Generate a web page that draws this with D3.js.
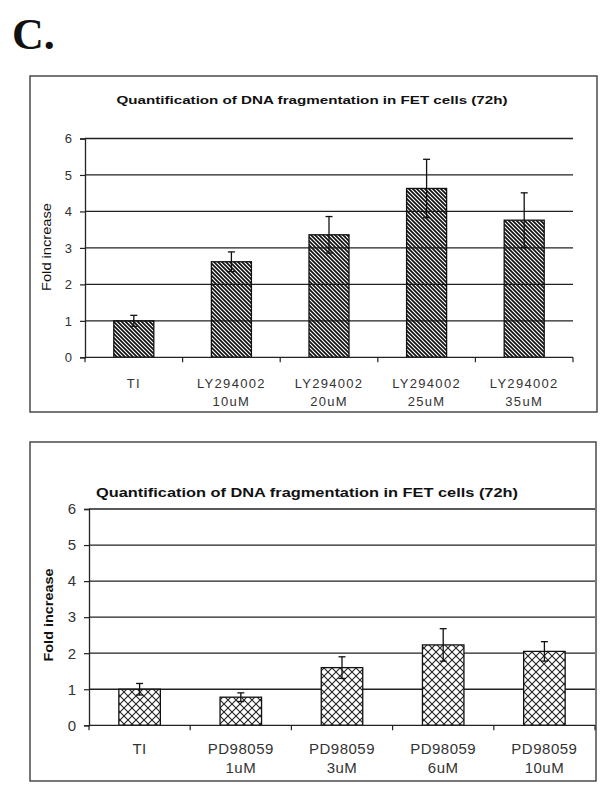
<!DOCTYPE html>
<html>
<head>
<meta charset="utf-8">
<script src="https://cdn.jsdelivr.net/npm/d3@7/dist/d3.min.js"></script>
<style>
  body { margin: 0; background: #fff; }
  text { font-family: "Liberation Sans", Arial, sans-serif; }
</style>
</head>
<body>
<svg id="chart" width="610" height="789"></svg>
<script>
// panel 1: LY294002
const drugs1 = ["TI", "LY294002", "LY294002", "LY294002", "LY294002"];
const doses1 = ["", "10uM", "20uM", "25uM", "35uM"];
const fold1 = [1.0, 2.62, 3.36, 4.63, 3.76];
const err1 = [0.15, 0.27, 0.5, 0.8, 0.75];

// panel 2: PD98059
const drugs2 = ["TI", "PD98059", "PD98059", "PD98059", "PD98059"];
const doses2 = ["", "1uM", "3uM", "6uM", "10uM"];
const fold2 = [1.0, 0.78, 1.6, 2.23, 2.05];
const err2 = [0.16, 0.12, 0.3, 0.45, 0.27];

const yTicks = [0, 1, 2, 3, 4, 5, 6];
const title = "Quantification of DNA fragmentation in FET cells (72h)";

const svg = d3.select("#chart");
const defs = svg.append("defs");

// dense "\" hatching
defs.append("pattern")
  .attr("id", "hatch")
  .attr("patternUnits", "userSpaceOnUse")
  .attr("width", 4).attr("height", 4)
  .append("path")
  .attr("d", "M-1,-1L5,5M3,-1L5,1M-1,3L1,5")
  .attr("stroke", "#111").attr("stroke-width", 1.7);

// diagonal cross hatch
const cross = defs.append("pattern")
  .attr("id", "cross")
  .attr("patternUnits", "userSpaceOnUse")
  .attr("width", 8).attr("height", 8);
cross.append("rect").attr("width", 8).attr("height", 8).attr("fill", "#fff");
cross.append("path")
  .attr("d", "M0,0L8,8M8,0L0,8")
  .attr("stroke", "#222").attr("stroke-width", 1.1);

svg.append("text")
  .attr("x", 12).attr("y", 49)
  .style("font-family", "'Liberation Serif', 'Times New Roman', serif")
  .style("font-weight", "bold")
  .style("font-size", "44px")
  .attr("fill", "#111")
  .text("C.");

function drawPanel(o) {
  const g = svg.append("g");

  g.append("rect")
    .attr("x", o.box[0]).attr("y", o.box[1])
    .attr("width", o.box[2] - o.box[0]).attr("height", o.box[3] - o.box[1])
    .attr("fill", "#fff").attr("stroke", "#555").attr("stroke-width", 1.6);

  g.append("text")
    .attr("x", o.titleX).attr("y", o.titleY)
    .attr("text-anchor", "middle")
    .attr("textLength", o.titleLen).attr("lengthAdjust", "spacingAndGlyphs")
    .style("font-weight", "bold").style("font-size", o.titleSize + "px")
    .attr("fill", "#111")
    .text(title);

  const x = d3.scaleBand()
    .domain(d3.range(o.fold.length))
    .range([o.x0, o.x1])
    .paddingInner(0.59).paddingOuter(0.295);
  const step = x.step();

  const y = d3.scaleLinear().domain([0, 6]).range([o.y0, o.y6]);

  // gridlines
  g.append("g").selectAll("line")
    .data(yTicks.filter(d => d > 0))
    .enter().append("line")
    .attr("x1", o.x0).attr("x2", o.x1)
    .attr("y1", d => y(d)).attr("y2", d => y(d))
    .attr("stroke", "#222").attr("stroke-width", 1.3);

  // bars
  g.append("g").selectAll("rect")
    .data(o.fold)
    .enter().append("rect")
    .attr("x", (d, i) => x(i))
    .attr("y", d => y(d))
    .attr("width", x.bandwidth())
    .attr("height", d => y(0) - y(d))
    .attr("fill", "url(#" + o.pattern + ")")
    .attr("stroke", "#111").attr("stroke-width", 1.3);

  // error bars
  const eb = g.append("g").selectAll("g")
    .data(o.fold.map((d, i) => ({ v: d, e: o.err[i], i: i })))
    .enter().append("g");
  eb.append("line")
    .attr("x1", d => x(d.i) + x.bandwidth() / 2).attr("x2", d => x(d.i) + x.bandwidth() / 2)
    .attr("y1", d => y(d.v - d.e)).attr("y2", d => y(d.v + d.e))
    .attr("stroke", "#111").attr("stroke-width", 1.3);
  [1, -1].forEach(s => {
    eb.append("line")
      .attr("x1", d => x(d.i) + x.bandwidth() / 2 - 3.5)
      .attr("x2", d => x(d.i) + x.bandwidth() / 2 + 3.5)
      .attr("y1", d => y(d.v + s * d.e)).attr("y2", d => y(d.v + s * d.e))
      .attr("stroke", "#111").attr("stroke-width", 1.3);
  });

  // y axis
  const ya = g.append("g")
    .attr("transform", `translate(${o.x0},0)`)
    .call(d3.axisLeft(y).tickValues(yTicks).tickFormat(d3.format("d"))
      .tickSize(5).tickPadding(o.tickPad));
  ya.select(".domain").attr("stroke", "#222").attr("stroke-width", 1.3);
  ya.selectAll(".tick line").attr("stroke", "#222").attr("stroke-width", 1.2);
  ya.selectAll(".tick text")
    .style("font-family", "'Liberation Sans', Arial, sans-serif")
    .style("font-size", o.fontSize + "px").attr("fill", "#333");

  // x axis line with ticks at band edges
  const xa = g.append("g");
  xa.append("line")
    .attr("x1", o.x0).attr("x2", o.x1).attr("y1", y(0)).attr("y2", y(0))
    .attr("stroke", "#222").attr("stroke-width", 1.3);
  xa.selectAll(".xt")
    .data(d3.range(o.fold.length + 1))
    .enter().append("line")
    .attr("x1", i => o.x0 + i * step).attr("x2", i => o.x0 + i * step)
    .attr("y1", y(0)).attr("y2", y(0) + 5)
    .attr("stroke", "#222").attr("stroke-width", 1.2);

  const lab = xa.selectAll(".cl")
    .data(o.drugs.map((d, i) => ({ a: d, b: o.doses[i], i: i })))
    .enter().append("text")
    .attr("text-anchor", "middle")
    .style("font-size", o.fontSize + "px")
    .style("letter-spacing", o.spacing + "px")
    .attr("fill", "#333");
  lab.append("tspan")
    .attr("x", d => x(d.i) + x.bandwidth() / 2)
    .attr("y", o.lab1)
    .text(d => d.a);
  lab.append("tspan")
    .attr("x", d => x(d.i) + x.bandwidth() / 2)
    .attr("y", o.lab2)
    .text(d => d.b);

  // y label
  g.append("text")
    .attr("transform", `translate(${o.ylabX},${o.ylabY}) rotate(-90)`)
    .attr("text-anchor", "middle")
    .attr("textLength", o.ylabLen).attr("lengthAdjust", "spacingAndGlyphs")
    .style("font-size", o.ylabSize + "px")
    .style("font-weight", o.ylabWeight)
    .attr("fill", "#111")
    .text("Fold increase");
}

drawPanel({
  box: [30, 76, 597, 412],
  x0: 85, x1: 573, y0: 357.3, y6: 138.5,
  fold: fold1, err: err1, drugs: drugs1, doses: doses1,
  pattern: "hatch",
  titleX: 312, titleY: 104, titleLen: 391, titleSize: 11,
  fontSize: 13, spacing: 1.3, tickPad: 8,
  lab1: 388, lab2: 406,
  ylabX: 51, ylabY: 247, ylabLen: 88, ylabSize: 12, ylabWeight: "normal"
});

drawPanel({
  box: [30, 442, 596, 781],
  x0: 89, x1: 595, y0: 725.3, y6: 509,
  fold: fold2, err: err2, drugs: drugs2, doses: doses2,
  pattern: "cross",
  titleX: 307, titleY: 497, titleLen: 422, titleSize: 12.5,
  fontSize: 15, spacing: 0.5, tickPad: 8,
  lab1: 754, lab2: 773,
  ylabX: 53, ylabY: 615, ylabLen: 93, ylabSize: 13.5, ylabWeight: "bold"
});
</script>
</body>
</html>
